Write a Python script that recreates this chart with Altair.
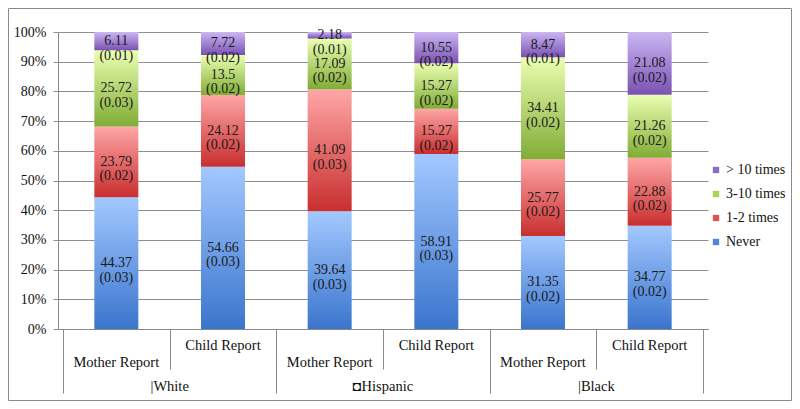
import altair as alt
import pandas as pd

groups = ["White", "White", "Hispanic", "Hispanic", "Black", "Black"]
group_labels = {"White": "|White", "Hispanic": "\u25d8Hispanic", "Black": "|Black"}
reports = ["Mother Report", "Child Report"] * 3
categories = ["Never", "1-2 times", "3-10 times", "> 10 times"]

never = [44.37, 54.66, 39.64, 58.91, 31.35, 34.77]
never_se = [0.03, 0.03, 0.03, 0.03, 0.02, 0.02]
once = [23.79, 24.12, 41.09, 15.27, 25.77, 22.88]
once_se = [0.02, 0.02, 0.03, 0.02, 0.02, 0.02]
some = [25.72, 13.5, 17.09, 15.27, 34.41, 21.26]
some_se = [0.03, 0.02, 0.02, 0.02, 0.02, 0.02]
many = [6.11, 7.72, 2.18, 10.55, 8.47, 21.08]
many_se = [0.01, 0.02, 0.01, 0.02, 0.01, 0.02]

series = [never, once, some, many]
ses = [never_se, once_se, some_se, many_se]

rows = []
for ci, (cat, vals, errs) in enumerate(zip(categories, series, ses)):
    for i, (g, r, v, e) in enumerate(zip(groups, reports, vals, errs)):
        rows.append({
            "idx": i, "group": g, "glabel": group_labels[g], "report": r,
            "cat": cat, "order": ci, "value": v,
            "label": f"{v:g}\n({e:.2f})",
        })
df = pd.DataFrame(rows)
df["pos"] = df["idx"] + 0.5

grads = {
    "Never": ("#a3c8ff", "#3a75cd"),
    "1-2 times": ("#ffa6a6", "#c92f2f"),
    "3-10 times": ("#ebffb2", "#80ac35"),
    "> 10 times": ("#cbb6f2", "#7a52b3"),
}
legend_colors = ["#8a6cc0", "#a5d65a", "#e05252", "#4f86d8"]
legend_order = ["> 10 times", "3-10 times", "1-2 times", "Never"]

FONT = "Times New Roman, Liberation Serif, serif"

x_axis = alt.Axis(values=[0, 1, 2, 3, 4, 5, 6], labels=False, grid=False,
                  title=None, domainColor="#8a8a8a", tickColor="#8a8a8a",
                  tickSize={"condition": {"test": "datum.value % 2 === 0", "value": 64}, "value": 40})
y_axis = alt.Axis(values=list(range(0, 101, 10)), labelExpr="datum.value + '%'",
                  grid=True, gridColor="#8f8f8f", tickColor="#8f8f8f", tickSize=5,
                  labelPadding=7, labelFontSize=14, labelFont=FONT, labelColor="#111",
                  labelOverlap=False, domainColor="#8a8a8a", title=None)
y_scale = alt.Scale(domain=[0, 100])
x_scale = alt.Scale(domain=[0, 6])


def X(field):
    return alt.X(field, scale=x_scale, axis=x_axis)


def Y(field):
    return alt.Y(field, scale=y_scale, axis=y_axis)


base = alt.Chart(df).transform_stack(
    stack="value", groupby=["idx"], as_=["y0", "y1"], sort=[alt.SortField("order")]
)

layers = []
# hidden layer for legend
layers.append(base.mark_bar(width=44, opacity=0).encode(
    x=X("pos:Q"),
    y=Y("y0:Q"),
    y2="y1:Q",
    color=alt.Color("cat:N", scale=alt.Scale(domain=legend_order, range=legend_colors),
                    legend=alt.Legend(title=None, orient="none", legendX=651, legendY=131,
                                      symbolType="square", symbolSize=40, symbolOpacity=1,
                                      labelFont=FONT, labelFontSize=14, labelColor="#111",
                                      labelOffset=3, rowPadding=10, symbolStrokeWidth=0)),
))
for cat in categories:
    top, bot = grads[cat]
    layers.append(base.transform_filter(alt.datum.cat == cat).mark_bar(
        width=44,
        color=alt.LinearGradient(gradient="linear", x1=0, x2=0, y1=0, y2=1,
                                 stops=[alt.GradientStop(offset=0, color=top),
                                        alt.GradientStop(offset=1, color=bot)]),
    ).encode(x=X("pos:Q"), y=Y("y0:Q"), y2="y1:Q"))

layers.append(base.transform_calculate(mid="(datum.y0 + datum.y1) / 2").mark_text(
    font=FONT, fontSize=14, lineBreak="\n", lineHeight=14.5, color="#1a1a1a",
    baseline="middle", align="center"
).encode(x=X("pos:Q"), y=Y("mid:Q"), text="label:N"))

rep = alt.Chart(df[df["cat"] == "Never"])
layers.append(rep.transform_filter(alt.datum.report == "Child Report").mark_text(
    font=FONT, fontSize=14.5, color="#111", baseline="middle"
).encode(x=X("pos:Q"), y=alt.value(314), text="report:N"))
layers.append(rep.transform_filter(alt.datum.report == "Mother Report").mark_text(
    font=FONT, fontSize=14.5, color="#111", baseline="middle"
).encode(x=X("pos:Q"), y=alt.value(331), text="report:N"))
layers.append(rep.transform_aggregate(gpos="mean(pos)", groupby=["glabel"]).mark_text(
    font=FONT, fontSize=14.5, color="#111", baseline="middle"
).encode(x=X("gpos:Q"), y=alt.value(355), text="glabel:N"))

frame = alt.Chart(pd.DataFrame({"a": [0]})).mark_rect(
    fillOpacity=0, stroke="#8a8a8a", strokeWidth=1
).encode(x=alt.value(-49.5), x2=alt.value(733.5), y=alt.value(-23.5), y2=alt.value(368.5))
layers.append(frame)

chart = alt.layer(*layers).properties(
    width=650, height=297,
    autosize=alt.AutoSizeParams(type="none"),
    padding={"left": 50, "top": 24, "right": 84, "bottom": 72},
).configure_view(strokeWidth=0)

chart.save("out.html", embed_options={"renderer": "svg", "actions": False})
